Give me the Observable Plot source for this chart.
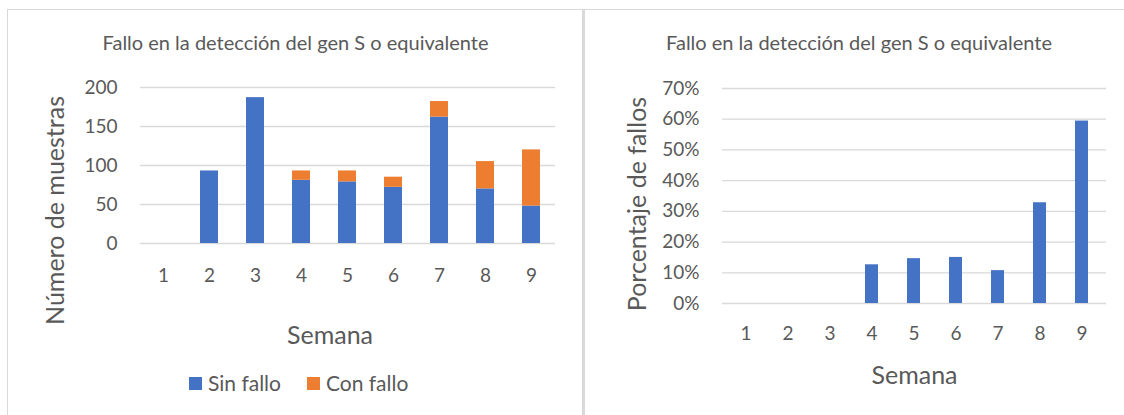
<!DOCTYPE html>
<html>
<head>
<meta charset="utf-8">
<script src="https://cdn.jsdelivr.net/npm/d3@7"></script>
<script src="https://cdn.jsdelivr.net/npm/@observablehq/plot@0.6"></script>
<style>
  html, body { margin: 0; padding: 0; background: #ffffff; }
  body { position: relative; width: 1124px; height: 415px; overflow: hidden; font-family: Lato, sans-serif; color: #595959; }
  .panel { position: absolute; top: 9px; height: 420px; box-sizing: border-box; border-top: 1px solid #d9d9d9; }
  #p1 { left: 7px; width: 577px; border-left: 1px solid #d9d9d9; border-right: 2px solid #d9d9d9; }
  #p2 { left: 584px; width: 560px; border-left: 1px solid #d9d9d9; }
  .title { position: absolute; top: 29px; text-align: center; font-size: 20px; line-height: 26px; white-space: nowrap; }
  #t1 { left: 7px; width: 577px; }
  #t2 { left: 584px; width: 550px; }
  .chart { position: absolute; top: 60px; }
  #c1 { left: 0px; }
  #c2 { left: 584px; }
  .legend { position: absolute; top: 370px; font-size: 21px; line-height: 26px; }
  .legend .item { position: absolute; display: flex; align-items: center; white-space: nowrap; }
  .legend .sw { width: 13px; height: 13px; margin-right: 6px; }
</style>
</head>
<body>
<div class="panel" id="p1"></div>
<div class="panel" id="p2"></div>
<div class="title" id="t1"></div>
<div class="title" id="t2"></div>
<div class="chart" id="c1"></div>
<div class="chart" id="c2"></div>
<div class="legend" id="leg"></div>
<script>
// ---- Data ----
const semanas = [1, 2, 3, 4, 5, 6, 7, 8, 9];
const sinFallo = [0, 93, 187, 81, 79, 72, 162, 70, 48];
const conFallo = [0, 0, 0, 12, 14, 13, 20, 35, 72];
const porcentajeFallos = [0, 0, 0, 12.6, 14.6, 15.0, 10.7, 32.8, 59.4];
const series = ["Sin fallo", "Con fallo"];
const colores = ["#4472C4", "#ED7D31"];
const ticksMuestras = [0, 50, 100, 150, 200];
const ticksPorcentaje = [0, 10, 20, 30, 40, 50, 60, 70];
const titulo = "Fallo en la detección del gen S o equivalente";
const ejeX = "Semana";
const ejeYIzq = "Número de muestras";
const ejeYDer = "Porcentaje de fallos";

// ---- Tables built from the arrays ----
const muestras = semanas.flatMap((s, i) => [
  {semana: s, serie: series[0], valor: sinFallo[i]},
  {semana: s, serie: series[1], valor: conFallo[i]}
]);
const porcentajes = semanas.map((s, i) => ({semana: s, pct: porcentajeFallos[i]}));

const gris = "#595959", rejilla = "#d9d9d9";
const estilo = {fontFamily: "Lato, sans-serif", fontSize: "19px", color: gris, background: "transparent", overflow: "visible"};

const izq = Plot.plot({
  width: 584, height: 300,
  marginLeft: 140, marginRight: 29, marginTop: 27, marginBottom: 117,
  style: estilo,
  x: {type: "band", domain: semanas, paddingInner: 0.6, paddingOuter: 0.3, label: null},
  y: {domain: [0, 200], label: null},
  color: {domain: series, range: colores},
  marks: [
    Plot.ruleY(ticksMuestras, {stroke: rejilla, strokeWidth: 1.3}),
    Plot.barY(muestras, {x: "semana", y: "valor", fill: "serie"}),
    Plot.axisX({tickSize: 0, tickPadding: 25, label: null}),
    Plot.axisY({ticks: ticksMuestras, tickSize: 0, tickPadding: 23, label: null}),
    Plot.text([ejeX], {text: d => d, frameAnchor: "bottom", textAnchor: "middle", lineAnchor: "bottom", dx: -18, dy: 100, fontSize: 25}),
    Plot.text([ejeYIzq], {text: d => d, frameAnchor: "left", textAnchor: "middle", rotate: -90, lineAnchor: "middle", dx: -85, dy: 45, fontSize: 25})
  ]
});
document.getElementById("c1").append(izq);

const der = Plot.plot({
  width: 540, height: 300,
  marginLeft: 138, marginRight: 18, marginTop: 28, marginBottom: 57,
  style: estilo,
  x: {type: "band", domain: semanas, paddingInner: 0.69, paddingOuter: 0.345, label: null},
  y: {domain: [0, 70], label: null},
  marks: [
    Plot.ruleY(ticksPorcentaje, {stroke: rejilla, strokeWidth: 1.3}),
    Plot.barY(porcentajes, {x: "semana", y: "pct", fill: colores[0]}),
    Plot.axisX({tickSize: 0, tickPadding: 23, label: null}),
    Plot.axisY({ticks: ticksPorcentaje, tickSize: 0, tickPadding: 23, tickFormat: d => d + "%", label: null}),
    Plot.text([ejeX], {text: d => d, frameAnchor: "bottom", textAnchor: "middle", lineAnchor: "bottom", dx: 0, dy: 80, fontSize: 25}),
    Plot.text([ejeYDer], {text: d => d, frameAnchor: "left", textAnchor: "middle", rotate: -90, lineAnchor: "middle", dx: -85, dy: 8, fontSize: 25})
  ]
});
document.getElementById("c2").append(der);

document.getElementById("t1").textContent = titulo;
document.getElementById("t2").textContent = titulo;

const leg = document.getElementById("leg");
const legX = [189, 307];
series.forEach((s, i) => {
  const it = document.createElement("div");
  it.className = "item";
  it.style.left = legX[i] + "px";
  const sw = document.createElement("span");
  sw.className = "sw";
  sw.style.background = colores[i];
  const tx = document.createElement("span");
  tx.textContent = s;
  it.append(sw, tx);
  leg.append(it);
});
</script>
</body>
</html>
